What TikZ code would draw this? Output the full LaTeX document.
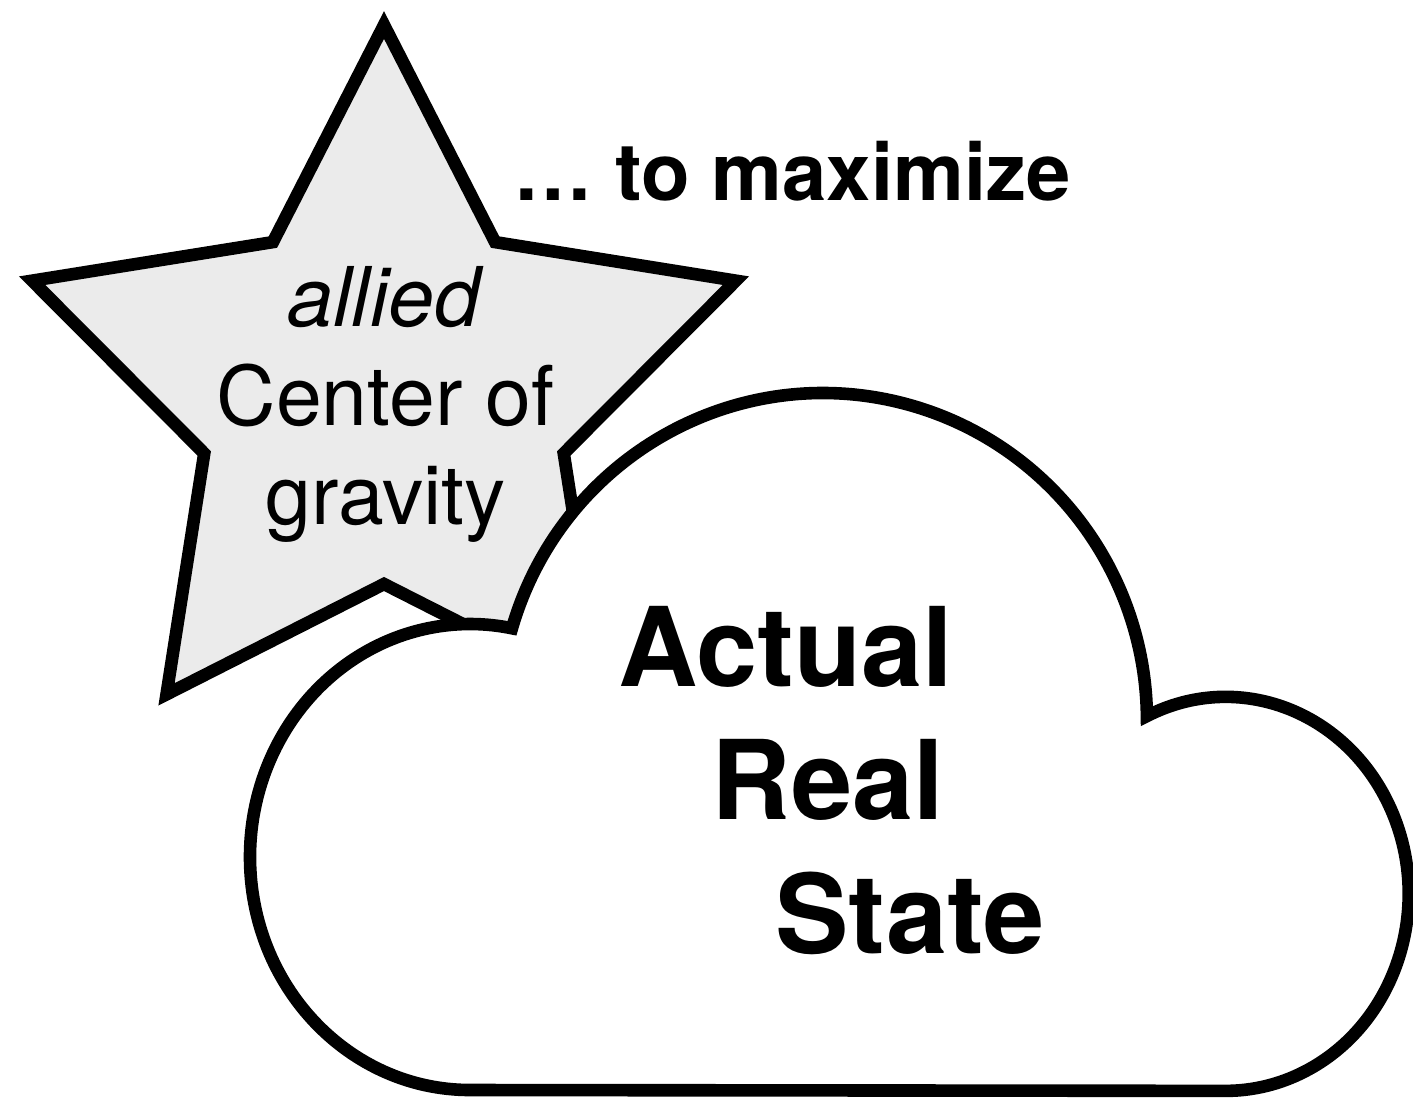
\documentclass[tikz,border=0pt]{standalone}
\usepackage{fontspec}
\setmainfont{TeX Gyre Heros}
\definecolor{starfill}{RGB}{235,235,235}
\begin{document}
\begin{tikzpicture}[x=0.5pt,y=-0.5pt,line join=miter,
  outline/.style={draw=black,line width=6.3pt},
  starshape/.style={outline,fill=starfill},
  cloudshape/.style={outline,fill=white},
  startext/.style={anchor=base,inner sep=0pt,font=\fontsize{41.2}{50}\selectfont},
  cloudtext/.style={anchor=base,inner sep=0pt,font=\fontsize{55}{66}\selectfont\bfseries},
  headtext/.style={anchor=base,inner sep=0pt,font=\fontsize{39.8}{48}\selectfont\bfseries}]
\useasboundingbox (0,0) rectangle (1413,1099);
% star
\begin{scope}[shift={(384,395)}]
\draw[starshape] (-90:370) -- (-54:189) -- (-18:370) -- (18:189) -- (54:370)
  -- (90:189) -- (126:370) -- (162:189) -- (198:370) -- (234:189) -- cycle;
\end{scope}
% cloud
\draw[cloudshape] (470,1090) arc[start angle=90,end angle=281,x radius=220,y radius=233]
  arc[start angle=196.3,end angle=359.3,x radius=324,y radius=327]
  arc[start angle=244.5,end angle=450,x radius=183,y radius=197] -- cycle;
% texts
\node[headtext] (head) at (792,200.6) {… to maximize};
\node[startext] (allied) at (384,326) {\itshape allied};
\node[startext] (center) at (385.5,425) {Center of};
\node[startext] (gravity) at (385.5,524) {gravity};
\node[cloudtext] (actual) at (786,686) {Actual};
\node[cloudtext] (real) at (828,819) {Real};
\node[cloudtext] (state) at (910,953) {State};
\end{tikzpicture}
\end{document}
